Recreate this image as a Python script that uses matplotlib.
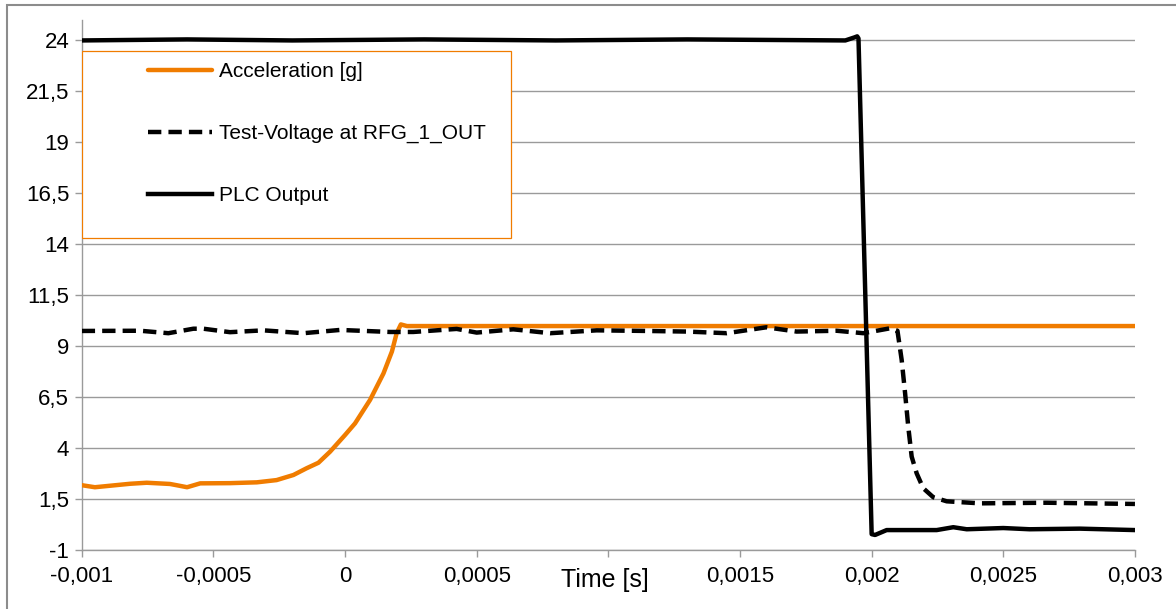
import matplotlib
matplotlib.use("Agg")
import matplotlib.pyplot as plt
from matplotlib.patches import Rectangle

plt.rcParams['font.family'] = ['Liberation Sans', 'DejaVu Sans']

# acceleration [g]
acc_t = [-0.001, -0.00095, -0.000816, -0.000753, -0.000665, -0.00064, -0.0006, -0.00055,
         -0.000437, -0.000335, -0.00026, -0.000196, -0.000146, -0.000101, -0.000057, 0.0,
         0.000038, 0.000095, 0.000146, 0.000178, 0.000196, 0.000212, 0.000235, 0.003]
acc_v = [2.2, 2.1, 2.27, 2.32, 2.26, 2.2, 2.1, 2.29,
         2.3, 2.34, 2.45, 2.7, 3.03, 3.3, 3.84, 4.66,
         5.23, 6.38, 7.68, 8.75, 9.65, 10.08, 10.0, 10.0]

# test voltage at RFG_1_OUT
volt_t = [-0.001, -0.000778, -0.000671, -0.000576, -0.000538, -0.000437, -0.00031, -0.000158,
          -0.000019, 0.000133, 0.000171, 0.000259, 0.000424, 0.0005, 0.000639, 0.000779,
          0.000956, 0.001146, 0.001298, 0.00145, 0.0016, 0.001715, 0.001867, 0.001968,
          0.00207, 0.002098, 0.002114, 0.002127, 0.002139, 0.002152, 0.002171, 0.002196,
          0.002234, 0.002285, 0.002412, 0.002665, 0.003]
volt_v = [9.76, 9.77, 9.65, 9.87, 9.87, 9.70, 9.79, 9.65,
          9.81, 9.73, 9.71, 9.71, 9.86, 9.68, 9.84, 9.65,
          9.79, 9.76, 9.73, 9.65, 9.94, 9.73, 9.77, 9.65,
          9.89, 9.77, 8.34, 6.71, 5.07, 3.60, 2.78, 2.05,
          1.61, 1.41, 1.31, 1.34, 1.28]

# PLC output
plc_t = [-0.001, -0.0006, -0.0002, 0.0003, 0.0008, 0.0013, 0.0019, 0.001935, 0.001945, 0.00195,
         0.002, 0.002013, 0.002057, 0.002247, 0.00231, 0.002361, 0.0025, 0.0026, 0.00279, 0.003]
plc_v = [24.0, 24.05, 24.0, 24.05, 24.0, 24.05, 24.0, 24.15, 24.2, 24.1,
         -0.2, -0.24, 0.0, 0.0, 0.14, 0.04, 0.10, 0.04, 0.07, 0.0]

xticks = [-0.001, -0.0005, 0, 0.0005, 0.001, 0.0015, 0.002, 0.0025, 0.003]
xticklabels = ['-0,001', '-0,0005', '0', '0,0005', '', '0,0015', '0,002', '0,0025', '0,003']
yticks = [-1, 1.5, 4, 6.5, 9, 11.5, 14, 16.5, 19, 21.5, 24]
yticklabels = ['-1', '1,5', '4', '6,5', '9', '11,5', '14', '16,5', '19', '21,5', '24']

orange = '#F07C00'
grid_c = '#9a9a9a'

fig = plt.figure(figsize=(11.76, 6.09), dpi=100)
ax = fig.add_axes([0.0695, 0.0961, 0.8956, 0.871])

l1, = ax.plot(acc_t, acc_v, color=orange, lw=3.2, solid_capstyle='round',
              solid_joinstyle='round', zorder=3)
l2, = ax.plot(volt_t, volt_v, color='black', lw=3.2, dashes=(3.0, 1.6), zorder=4)
l3, = ax.plot(plc_t, plc_v, color='black', lw=3.2, solid_joinstyle='round', zorder=5)

ax.set_xlim(-0.001, 0.003)
ax.set_ylim(-1, 25)
ax.set_xticks(xticks)
ax.set_xticklabels(xticklabels)
ax.set_yticks(yticks)
ax.set_yticklabels(yticklabels)
ax.tick_params(axis='both', labelsize=16, colors=grid_c, labelcolor='black', length=5, width=1)
ax.tick_params(axis='x', pad=6)
ax.tick_params(axis='y', pad=4)

ax.grid(axis='y', color=grid_c, lw=1)
ax.set_axisbelow(True)
for s in ['top', 'right']:
    ax.spines[s].set_visible(False)
for s in ['left', 'bottom']:
    ax.spines[s].set_color(grid_c)
    ax.spines[s].set_linewidth(1)

ax.set_xlabel('Time [s]', fontsize=18)
ax.xaxis.set_label_coords(0.497, -0.056)
ax.xaxis.label.set_va('center')

# legend box
ax.add_patch(Rectangle((0.0, 0.589), 0.4073, 0.3527, transform=ax.transAxes,
                       facecolor='white', edgecolor=orange, lw=0.9, zorder=6))
leg = ax.legend([l1, l2, l3], ['Acceleration [g]', 'Test-Voltage at RFG_1_OUT', 'PLC Output'],
                loc='upper left', bbox_to_anchor=(0.063, 0.9205), frameon=False,
                fontsize=15, handlelength=3.07, handletextpad=0.33, labelspacing=2.05,
                borderpad=0, borderaxespad=0)
leg.set_zorder(7)

# outer frame
fig.patches.append(Rectangle((7 / 1176, -0.1), 1.2, 1.1 - 5 / 609, transform=fig.transFigure,
                             facecolor='none', edgecolor='#8c8c8c', lw=1.5))

plt.savefig('out.png', dpi=100)
